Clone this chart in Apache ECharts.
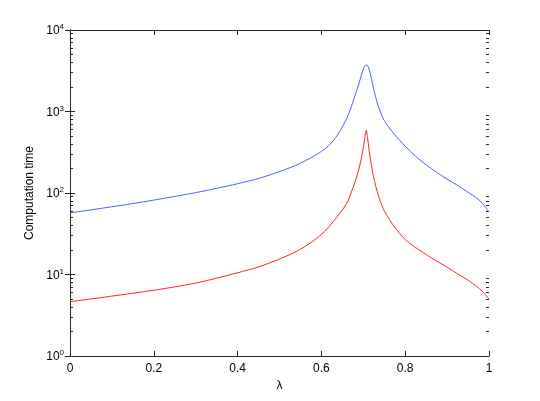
<!DOCTYPE html>
<html>
<head>
<meta charset="utf-8">
<script src="https://cdn.jsdelivr.net/npm/echarts@6/dist/echarts.min.js"></script>
<style>html,body{margin:0;padding:0;background:#fff}#c{width:540px;height:401px}</style>
</head>
<body>
<div id="c"></div>
<script>
var blueLambda = [0, 0.05, 0.1, 0.15, 0.2, 0.25, 0.3, 0.35, 0.4, 0.45, 0.5, 0.55, 0.6, 0.63, 0.66, 0.68, 0.69, 0.695, 0.7, 0.704, 0.708, 0.712, 0.716, 0.72, 0.725, 0.735, 0.75, 0.775, 0.8, 0.825, 0.85, 0.875, 0.9, 0.925, 0.95, 0.97, 0.985, 1.0];
var blueTime   = [57, 62.1, 67.8, 74.3, 81.8, 90.8, 101, 114, 130, 151, 183, 232, 324, 447, 813, 1550, 2240, 2750, 3310, 3630, 3720, 3510, 3020, 2450, 1860, 1200, 776, 519, 376, 282, 221, 180, 148, 124, 102, 87.1, 74.1, 58.2];
var redLambda  = [0, 0.05, 0.1, 0.15, 0.2, 0.25, 0.3, 0.35, 0.4, 0.45, 0.5, 0.55, 0.6, 0.63, 0.66, 0.675, 0.685, 0.693, 0.699, 0.703, 0.707, 0.71, 0.714, 0.718, 0.722, 0.727, 0.733, 0.74, 0.75, 0.775, 0.8, 0.825, 0.85, 0.875, 0.9, 0.925, 0.95, 0.97, 0.985, 1.0];
var redTime    = [4.63, 5.01, 5.43, 5.89, 6.41, 7.05, 7.85, 9.02, 10.5, 12.4, 15.5, 20.4, 30.9, 45.7, 74.1, 115, 162, 234, 339, 457, 589, 479, 331, 240, 182, 138, 105, 81.3, 60.3, 38.0, 26.9, 21.4, 17.6, 14.6, 12.3, 10.2, 8.51, 7.16, 6.17, 5.01];
var xTicks = ['0', '0.2', '0.4', '0.6', '0.8', '1'];
var yTickExponents = ['0', '1', '2', '3', '4'];
var xTitle = 'λ';
var yTitle = 'Computation time';

var minorValues = [];
for (var k = 0; k < 4; k++) for (var m = 2; m <= 9; m++) minorValues.push(m * Math.pow(10, k));

function pairs(xs, ys) { return xs.map(function (x, i) { return [x, ys[i]]; }); }

var axisColor = '#262626';
var font = 'Liberation Sans, Arial, sans-serif';

function minorAxis(pos) {
  return {
    type: 'log', logBase: 10, min: 1, max: 10000, position: pos,
    axisLine: {show: false},
    axisTick: {show: true, inside: true, length: 3, customValues: minorValues, lineStyle: {color: axisColor}},
    axisLabel: {show: false}, splitLine: {show: false}
  };
}

var chart = echarts.init(document.getElementById('c'), null, {renderer: 'canvas'});
chart.setOption({
  animation: false,
  backgroundColor: '#fff',
  grid: {left: 70, right: 51, top: 30, bottom: 45, containLabel: false},
  xAxis: [{
    type: 'value', min: 0, max: 1, interval: 0.2, position: 'bottom',
    name: xTitle, nameLocation: 'middle', nameGap: 24,
    nameTextStyle: {color: '#000', fontSize: 12, fontFamily: font},
    axisLine: {show: true, lineStyle: {color: axisColor, width: 1}},
    axisTick: {show: true, inside: true, length: 5, lineStyle: {color: axisColor}},
    axisLabel: {color: '#000', fontSize: 12, fontFamily: font, margin: 7,
      formatter: function (v) { return xTicks[Math.round(v / 0.2)]; }},
    splitLine: {show: false}
  }, {
    type: 'value', min: 0, max: 1, interval: 0.2, position: 'top',
    axisLine: {show: true, lineStyle: {color: axisColor, width: 1}},
    axisTick: {show: true, inside: true, length: 5, lineStyle: {color: axisColor}},
    axisLabel: {show: false}, splitLine: {show: false}
  }],
  yAxis: [{
    type: 'log', logBase: 10, min: 1, max: 10000, position: 'left',
    name: yTitle, nameLocation: 'middle', nameGap: 27,
    nameTextStyle: {color: '#000', fontSize: 12, fontFamily: font},
    axisLine: {show: true, lineStyle: {color: axisColor, width: 1}},
    axisTick: {show: true, inside: true, length: 5, lineStyle: {color: axisColor}},
    axisLabel: {color: '#000', fontFamily: font, margin: 6,
      formatter: function (v) { return '{b|10}{s|' + yTickExponents[Math.round(Math.log10(v))] + '}'; },
      rich: {b: {fontSize: 12, fontFamily: font, color: '#000', verticalAlign: 'bottom', lineHeight: 14},
             s: {fontSize: 8, fontFamily: font, color: '#000', verticalAlign: 'top', lineHeight: 14, padding: [0, 0, 8, 0]}}},
    splitLine: {show: false}
  }, {
    type: 'log', logBase: 10, min: 1, max: 10000, position: 'right',
    axisLine: {show: true, lineStyle: {color: axisColor, width: 1}},
    axisTick: {show: true, inside: true, length: 5, lineStyle: {color: axisColor}},
    axisLabel: {show: false}, splitLine: {show: false}
  }, minorAxis('left'), minorAxis('right')],
  series: [{
    type: 'line', name: 'blue', data: pairs(blueLambda, blueTime), showSymbol: false,
    smooth: 0.3, yAxisIndex: 0,
    lineStyle: {color: '#4263ff', width: 1}
  }, {
    type: 'line', name: 'red', data: pairs(redLambda, redTime), showSymbol: false,
    smooth: 0.3, yAxisIndex: 0,
    lineStyle: {color: '#ff2626', width: 1}
  }]
});
</script>
</body>
</html>
